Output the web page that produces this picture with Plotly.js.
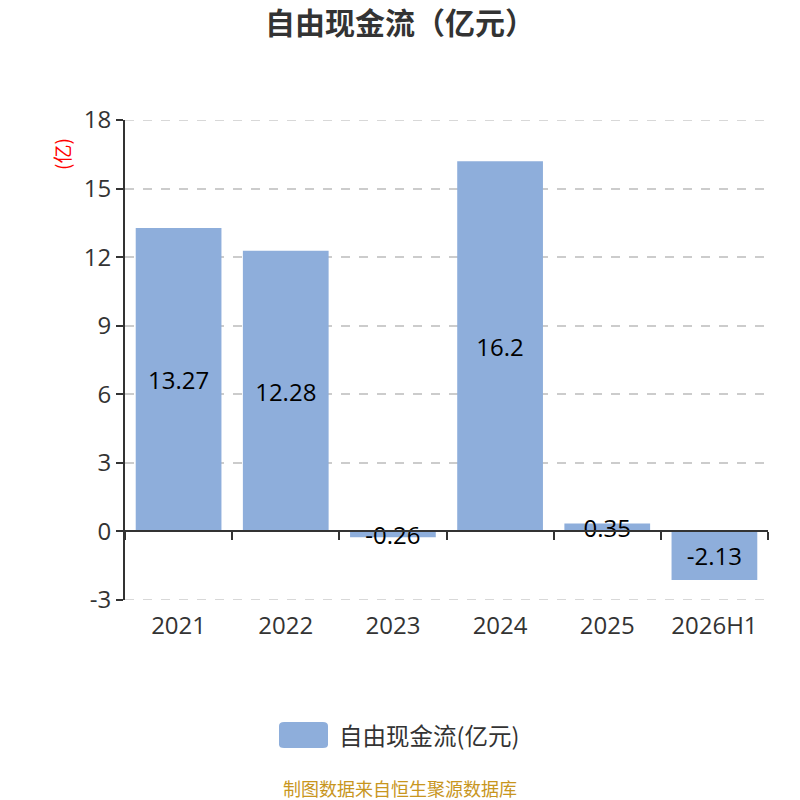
<!DOCTYPE html>
<html>
<head>
<meta charset="utf-8">
<script src="https://cdn.plot.ly/plotly-3.0.1.min.js"></script>
<style>body{margin:0;} #myDiv{width:800px;height:800px;}</style>
</head>
<body>
<div id="myDiv"></div>
<script>
var years = ["2021","2022","2023","2024","2025","2026H1"];
var fcf = [13.27, 12.28, -0.26, 16.2, 0.35, -2.13];
var yTicks = [-3, 0, 3, 6, 9, 12, 15, 18];
var yTickText = ["-3", "0", "3", "6", "9", "12", "15", "18"];
var boundaries = [-0.5, 0.5, 1.5, 2.5, 3.5, 4.5, 5.5];
var yMin = -3, yMax = 18;

var font = 'Open Sans, Noto Sans CJK SC, sans-serif';
var cjk = 'Noto Sans CJK SC, sans-serif';
var barColor = '#8EAEDB';

var bars = {
  x: years,
  y: fcf,
  name: '自由现金流(亿元)',
  type: 'bar',
  marker: {color: barColor},
  text: fcf.map(String),
  textposition: 'inside',
  insidetextanchor: 'middle',
  constraintext: 'none',
  textfont: {family: font, size: 24, color: '#000'},
  cliponaxis: false,
  showlegend: false,
  hoverinfo: 'skip'
};

// empty trace so the zero-line axis (x2) gets drawn
var axisHolder = {
  x: [], y: [],
  type: 'scatter',
  xaxis: 'x2',
  showlegend: false,
  hoverinfo: 'skip'
};

// legend swatch drawn as a rounded rectangle (paper coords)
function roundRect(x0, y0, x1, y1, r) {
  return 'M' + (x0 + r) + ',' + y0 + ' L' + (x1 - r) + ',' + y0 +
    ' Q' + x1 + ',' + y0 + ' ' + x1 + ',' + (y0 + r) +
    ' L' + x1 + ',' + (y1 - r) + ' Q' + x1 + ',' + y1 + ' ' + (x1 - r) + ',' + y1 +
    ' L' + (x0 + r) + ',' + y1 + ' Q' + x0 + ',' + y1 + ' ' + x0 + ',' + (y1 - r) +
    ' L' + x0 + ',' + (y0 + r) + ' Q' + x0 + ',' + y0 + ' ' + (x0 + r) + ',' + y0 + ' Z';
}

// edge gridlines (plotly drops the ones on the plot edge)
function edgeGrid(v) {
  return {
    type: 'line',
    xref: 'paper', yref: 'y',
    x0: 0, x1: 1, y0: v, y1: v,
    line: {color: '#ccc', width: 1.5, dash: 'dash'},
    layer: 'below'
  };
}

var layout = {
  width: 800,
  height: 800,
  margin: {l: 125, r: 32, t: 120, b: 200, autoexpand: false},
  paper_bgcolor: '#fff',
  plot_bgcolor: '#fff',
  bargap: 0.2,
  showlegend: false,
  title: {
    text: '<b>自由现金流（亿元）</b>',
    font: {family: cjk, size: 30, color: '#333'},
    x: 0.5, xanchor: 'center',
    y: 0.971, yref: 'container', yanchor: 'middle'
  },
  xaxis: {
    type: 'category',
    categoryarray: years,
    range: [-0.5, 5.5],
    showline: false,
    ticks: '',
    showgrid: false,
    zeroline: false,
    ticklabelstandoff: 9,
    tickfont: {family: font, size: 24, color: '#333'}
  },
  xaxis2: {
    overlaying: 'x',
    anchor: 'free',
    position: 3 / 21,
    range: [-0.5, 5.5],
    showline: true,
    linecolor: '#333',
    linewidth: 2,
    ticks: 'outside',
    ticklen: 8,
    tickwidth: 2,
    tickcolor: '#333',
    tickvals: boundaries,
    showticklabels: false,
    showgrid: false,
    zeroline: false
  },
  yaxis: {
    range: [yMin, yMax],
    tickvals: yTicks,
    ticktext: yTickText,
    showline: true,
    linecolor: '#333',
    linewidth: 2,
    ticks: 'outside',
    ticklen: 7,
    tickwidth: 2,
    tickcolor: '#333',
    showgrid: true,
    gridcolor: '#ccc',
    griddash: 'dash',
    gridwidth: 1.5,
    zeroline: false,
    tickfont: {family: font, size: 24, color: '#333'}
  },
  shapes: [
    edgeGrid(yMax),
    edgeGrid(yMin),
    {
      type: 'path',
      xref: 'paper', yref: 'paper',
      path: roundRect((279 - 125) / 643, (600 - 748) / 480, (328 - 125) / 643, (600 - 722) / 480, 0.008),
      fillcolor: barColor,
      line: {width: 0}
    }
  ],
  annotations: [
    {
      text: '自由现金流(亿元)',
      xref: 'paper', yref: 'paper',
      x: (337 - 125) / 643, y: (600 - 735) / 480,
      xanchor: 'left', yanchor: 'middle',
      showarrow: false,
      font: {family: cjk, size: 23.5, color: '#333'}
    },
    {
      text: '(亿)',
      textangle: -90,
      xref: 'paper', yref: 'paper',
      x: (61 - 125) / 643, y: (600 - 154) / 480,
      xanchor: 'center', yanchor: 'middle',
      showarrow: false,
      font: {family: cjk, size: 19, color: '#f00'}
    },
    {
      text: '制图数据来自恒生聚源数据库',
      xref: 'paper', yref: 'paper',
      x: (400 - 125) / 643, y: (600 - 788) / 480,
      xanchor: 'center', yanchor: 'middle',
      showarrow: false,
      font: {family: cjk, size: 18, color: '#C8961E'}
    }
  ]
};

Plotly.newPlot('myDiv', [bars, axisHolder], layout, {displayModeBar: false});
</script>
</body>
</html>
